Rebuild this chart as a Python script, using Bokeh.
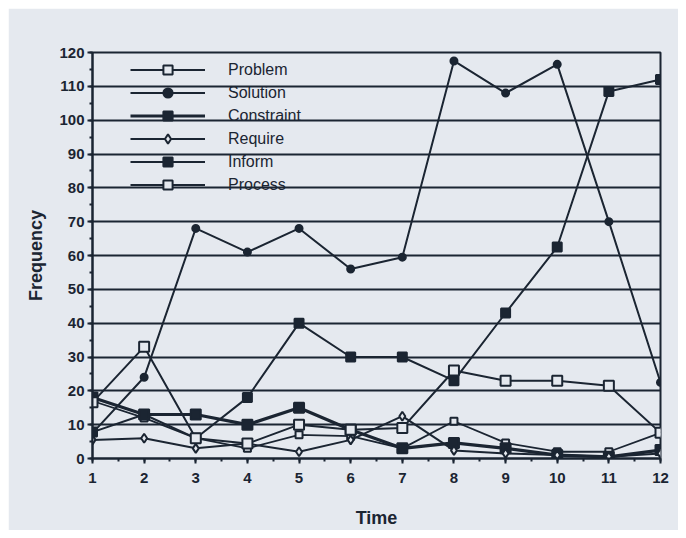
from bokeh.plotting import figure
from bokeh.models import Legend, LegendItem, SingleIntervalTicker, Range1d
from bokeh.embed import file_html
from bokeh.resources import INLINE

time = list(range(1, 13))
problem    = [17.0, 12.0, 6.0, 3.0, 7.0, 6.6, 3.0, 11.0, 4.6, 2.0, 2.0, 7.6]
solution   = [7.5, 24.0, 68.0, 61.0, 68.0, 56.0, 59.5, 117.5, 108.0, 116.5, 70.0, 22.5]
constraint = [18.0, 13.0, 13.0, 10.0, 15.0, 8.5, 3.0, 4.6, 3.0, 1.0, 0.5, 2.5]
require    = [5.5, 6.0, 3.0, 4.4, 2.0, 5.5, 12.5, 2.4, 1.5, 1.0, 0.5, 1.5]
inform     = [7.8, 13.0, 6.0, 18.0, 40.0, 30.0, 30.0, 23.0, 43.0, 62.5, 108.5, 112.0]
process    = [16.6, 33.0, 6.0, 4.4, 10.0, 8.5, 9.0, 26.0, 23.0, 23.0, 21.5, 7.6]

BG = "#e5e9ef"
DARK = "#1b2532"
FONT = "Liberation Sans"

p = figure(width=670, height=522, output_backend="svg", toolbar_location=None,
           x_range=Range1d(1, 12), y_range=Range1d(0, 120),
           min_border_left=84, min_border_right=18, min_border_top=44, min_border_bottom=71,
           background_fill_color=BG, border_fill_color=BG)
p.margin = (8, 8, 8, 8)

p.xaxis.ticker = SingleIntervalTicker(interval=1, num_minor_ticks=2)
p.yaxis.ticker = SingleIntervalTicker(interval=10, num_minor_ticks=2)
p.xgrid.grid_line_color = None
p.ygrid.grid_line_color = DARK
p.ygrid.grid_line_width = 2
p.outline_line_color = DARK
p.outline_line_width = 2

for ax in (p.xaxis[0], p.yaxis[0]):
    ax.axis_line_color = DARK
    ax.axis_line_width = 2
    ax.major_tick_line_color = DARK
    ax.major_tick_line_width = 2
    ax.major_tick_in = 0
    ax.major_tick_out = 5
    ax.minor_tick_line_color = DARK
    ax.minor_tick_line_width = 2
    ax.minor_tick_in = 0
    ax.minor_tick_out = 3
    ax.major_label_text_font = FONT
    ax.major_label_text_font_style = "bold"
    ax.major_label_text_font_size = "15px"
    ax.major_label_text_color = DARK
    ax.axis_label_text_font = FONT
    ax.axis_label_text_font_style = "bold"
    ax.axis_label_text_font_size = "18px"
    ax.axis_label_text_color = DARK

p.xaxis.axis_label = "Time"
p.yaxis.axis_label = "Frequency"
p.xaxis.major_label_standoff = 9
p.yaxis.major_label_standoff = 3
p.xaxis.axis_label_standoff = 22
p.yaxis.axis_label_standoff = 10

styles = [
    ("Problem", problem, 1.8, "square", 7, False),
    ("Solution", solution, 2.0, "circle", 7, True),
    ("Constraint", constraint, 3.2, "square", 10, True),
    ("Require", require, 2.0, "diamond", 9, False),
    ("Inform", inform, 2.0, "square", 9, True),
    ("Process", process, 2.0, "square", 10, False),
]

items = []
for name, vals, lw, marker, size, filled in styles:
    l = p.line(time, vals, line_color=DARK, line_width=lw)
    s = p.scatter(time, vals, marker=marker, size=size, line_color=DARK,
                  line_width=2, fill_color=DARK if filled else BG)
    items.append(LegendItem(label=name, renderers=[l, s]))

legend = Legend(items=items, location=(38, 262), glyph_width=75, glyph_height=23,
                label_height=23, label_standoff=23, spacing=0, padding=0, margin=0,
                background_fill_alpha=0, border_line_alpha=0,
                label_text_font=FONT, label_text_font_size="16px", label_text_color=DARK)
p.add_layout(legend)

open("out.html", "w").write(file_html(p, INLINE))
